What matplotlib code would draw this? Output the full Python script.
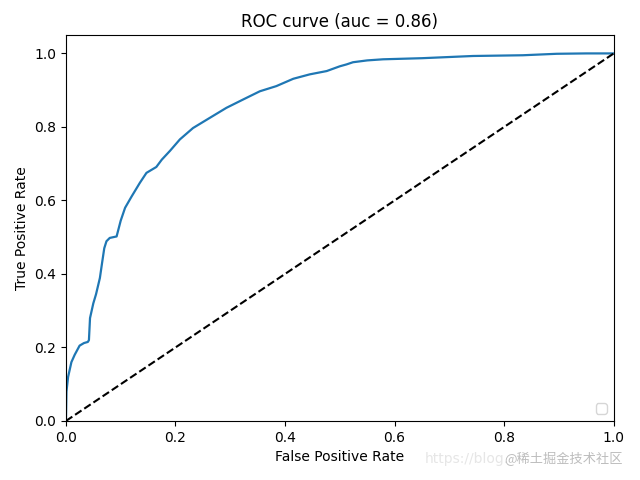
import matplotlib
matplotlib.use("Agg")
import matplotlib.pyplot as plt

fpr = [0.0, 0.001, 0.004, 0.007, 0.010, 0.016, 0.025, 0.033, 0.040, 0.042, 0.044,
       0.050, 0.055, 0.062, 0.066, 0.070, 0.074, 0.080, 0.0925, 0.100, 0.108, 0.120,
       0.135, 0.147, 0.165, 0.175, 0.190, 0.208, 0.232, 0.263, 0.293, 0.324, 0.354,
       0.384, 0.415, 0.445, 0.476, 0.500, 0.512, 0.524, 0.550, 0.579, 0.650, 0.743,
       0.834, 0.896, 0.950, 1.0]
tpr = [0.0, 0.08, 0.12, 0.14, 0.16, 0.18, 0.205, 0.212, 0.215, 0.22, 0.28,
       0.32, 0.345, 0.389, 0.43, 0.47, 0.489, 0.498, 0.502, 0.545, 0.58, 0.611,
       0.648, 0.675, 0.691, 0.711, 0.735, 0.766, 0.797, 0.825, 0.852, 0.875, 0.897,
       0.911, 0.931, 0.943, 0.952, 0.965, 0.970, 0.976, 0.981, 0.984, 0.987, 0.993,
       0.995, 0.999, 1.0, 1.0]
diag = [0.0, 1.0]
auc_value = 0.86

fig, ax = plt.subplots(figsize=(6.4, 4.8), dpi=100)
ax.plot(fpr, tpr, color="#1f77b4", lw=1.6)
ax.plot(diag, diag, "k--", lw=1.5)
ax.set_xlim(0.0, 1.0)
ax.set_ylim(0.0, 1.05)
ax.set_xlabel("False Positive Rate")
ax.set_ylabel("True Positive Rate")
ax.set_title("ROC curve (auc = %0.2f)" % auc_value)
ax.legend(handles=[], loc="lower right")
fig.subplots_adjust(left=0.103, right=0.959, bottom=0.123, top=0.927)

fig.text(0.664, 0.035, "https://blog.", fontsize=10, color="#e6e6e6",
         family=["DejaVu Sans"])
fig.text(0.788, 0.035, "@稀土掘金技术社区", fontsize=9.5, color="#bdbdbd",
         family=["Noto Sans CJK SC", "DejaVu Sans"])

fig.savefig("out.png", dpi=100)
